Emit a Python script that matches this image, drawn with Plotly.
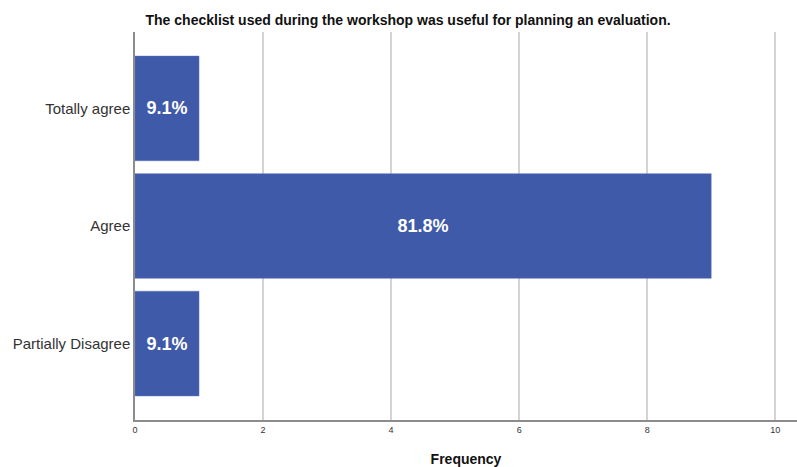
import plotly.graph_objects as go

categories = ["Totally agree", "Agree", "Partially Disagree"]
frequency = [1, 9, 1]
percent_labels = ["9.1%", "81.8%", "9.1%"]

fig = go.Figure(
    go.Bar(
        y=categories,
        x=frequency,
        orientation="h",
        width=0.89,
        marker=dict(color="#3f5aa8", line=dict(color="#5a72b8", width=0.5)),
        text=percent_labels,
        textposition="inside",
        insidetextanchor="middle",
        textangle=0,
        textfont=dict(family="Liberation Sans, Arial", size=18, color="white", weight="bold"),
        constraintext="none",
        hoverinfo="skip",
    )
)

fig.update_layout(
    width=797,
    height=467,
    margin=dict(l=135, r=0, t=32, b=47),
    paper_bgcolor="white",
    plot_bgcolor="white",
    showlegend=False,
    title=dict(
        text="<b>The checklist used during the workshop was useful for planning an evaluation.</b>",
        font=dict(family="Liberation Sans, Arial", size=14, color="#111"),
        x=0.512,
        xanchor="center",
        y=0.957,
        yanchor="middle",
    ),
    xaxis=dict(
        range=[0, 10.34],
        tickvals=[0, 2, 4, 6, 8, 10],
        ticks="",
        showgrid=True,
        gridcolor="#d4d4d4",
        gridwidth=1.5,
        zeroline=False,
        showline=True,
        linecolor="#8c8c8c",
        linewidth=1.5,
        tickfont=dict(family="Liberation Sans, Arial", size=9, color="#333"),
        title=dict(
            text="<b>Frequency</b>",
            font=dict(family="Liberation Sans, Arial", size=14, color="#111"),
            standoff=22,
        ),
    ),
    yaxis=dict(
        categoryorder="array",
        categoryarray=categories,
        autorange=False,
        range=[2.65, -0.65],
        ticks="",
        showgrid=False,
        zeroline=False,
        showline=True,
        linecolor="#8c8c8c",
        linewidth=1.5,
        ticklabelstandoff=0,
        tickfont=dict(family="Liberation Sans, Arial", size=15, color="#333"),
    ),
)

fig.write_html("out.html")
